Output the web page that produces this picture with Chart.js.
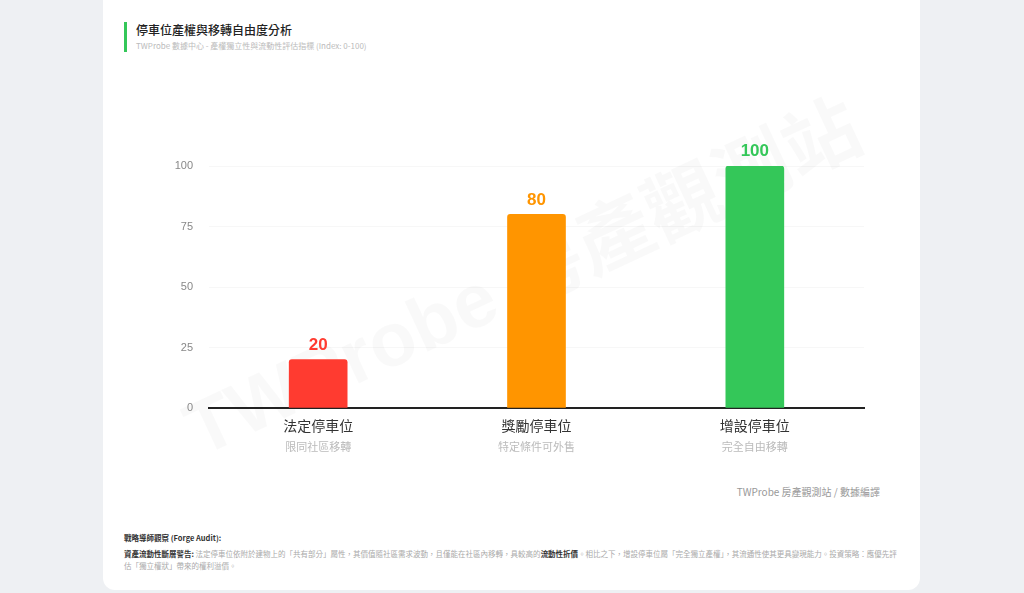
<!DOCTYPE html>
<html lang="zh-Hant">
<head>
<meta charset="utf-8">
<script src="https://cdn.jsdelivr.net/npm/chart.js@4"></script>
<style>
  html, body { margin: 0; padding: 0; background: #eef0f3; font-family: "Noto Sans CJK TC", "Noto Sans", sans-serif; }
  .card { position: absolute; left: 103px; top: -12px; width: 817px; height: 602px; background: #fff; border-radius: 12px; overflow: hidden; }
  .head { position: absolute; left: 21px; top: 34px; border-left: 3px solid #34c759; padding-left: 9px; height: 30px; }
  .head h1 { margin: 0; font-size: 12px; font-weight: 500; color: #222; line-height: 16px; }
  .head p { margin: 2px 0 0; font-size: 8px; color: #bbb; line-height: 11px; }
  .mark { position: absolute; left: 520px; top: 272px; transform: translate(-50%, -50%) rotate(-25deg); font: bold 76px "Liberation Sans", "Noto Sans CJK TC", sans-serif; color: rgba(0,0,0,0.022); white-space: nowrap; pointer-events: none; }
  .box { position: absolute; left: 160px; top: 120px; width: 720px; height: 350px; }
  .src { position: absolute; right: 40px; top: 496px; font-size: 10px; color: #999; }
  .audit { position: absolute; left: 21px; top: 544px; font-size: 7.5px; line-height: 12px; color: #aaa; white-space: nowrap; }
  .audit .t { color: #333; font-weight: bold; margin-bottom: 4px; }
  .audit b { color: #333; }
</style>
</head>
<body>
<div class="card">
  <div class="head">
    <h1>停車位產權與移轉自由度分析</h1>
    <p>TWProbe 數據中心 - 產權獨立性與流動性評估指標 (Index: 0-100)</p>
  </div>
  <div class="src">TWProbe 房產觀測站 / 數據編譯</div>
  <div class="audit">
    <div class="t">戰略導師觀察 (Forge Audit):</div>
    <b>資產流動性斷層警告:</b> 法定停車位依附於建物上的「共有部分」屬性，其價值隨社區需求波動，且僅能在社區內移轉，具較高的<b>流動性折價</b>。相比之下，增設停車位屬「完全獨立產權」，其流通性使其更具變現能力。投資策略：應優先評<br>估「獨立權狀」帶來的權利溢價。
  </div>
</div>
<div class="mark">TWProbe 房產觀測站</div>
<div class="box"><canvas id="chart"></canvas></div>
<script>
const categories = ['法定停車位', '獎勵停車位', '增設停車位'];
const subLabels = ['限同社區移轉', '特定條件可外售', '完全自由移轉'];
const freedomIndex = [20, 80, 100];
const barColors = ['#ff3b30', '#ff9500', '#34c759'];
const yTicks = [0, 25, 50, 75, 100];

const valueLabels = {
  id: 'valueLabels',
  afterDatasetsDraw(chart) {
    const ctx = chart.ctx;
    const meta = chart.getDatasetMeta(0);
    ctx.save();
    ctx.font = 'bold 17px "Liberation Sans", Arial, sans-serif';
    ctx.textAlign = 'center';
    ctx.textBaseline = 'bottom';
    meta.data.forEach((el, i) => {
      ctx.fillStyle = barColors[i];
      ctx.fillText(String(freedomIndex[i]), el.x, el.y - 6);
    });
    ctx.restore();
  }
};

const subTicks = {
  id: 'subTicks',
  afterDraw(chart) {
    const ctx = chart.ctx;
    const x = chart.scales.x;
    ctx.save();
    ctx.font = '11px "Noto Sans CJK TC", sans-serif';
    ctx.fillStyle = '#bbb';
    ctx.textAlign = 'center';
    ctx.textBaseline = 'middle';
    subLabels.forEach((s, i) => {
      ctx.fillText(s, x.getPixelForTick(i), x.top + 39);
    });
    ctx.restore();
  }
};

new Chart(document.getElementById('chart'), {
  type: 'bar',
  data: {
    labels: categories,
    datasets: [{
      data: freedomIndex,
      backgroundColor: barColors,
      borderRadius: { topLeft: 3, topRight: 3 },
      borderSkipped: 'bottom',
      barThickness: 58
    }]
  },
  options: {
    responsive: true,
    maintainAspectRatio: false,
    animation: false,
    layout: { padding: { left: 9, right: 16, top: 46, bottom: 0 } },
    plugins: { legend: { display: false }, tooltip: { enabled: false } },
    scales: {
      y: {
        min: 0,
        max: 100,
        afterFit(scale) { scale.width = 40; },
        afterBuildTicks(scale) { scale.ticks = yTicks.map(v => ({ value: v })); },
        border: { display: false },
        grid: { color: 'rgba(0,0,0,0.03)', drawTicks: false },
        ticks: { padding: 16, color: '#888', font: { size: 11, family: '"Liberation Sans", Arial, sans-serif' } }
      },
      x: {
        afterFit(scale) { scale.height = 62; },
        border: { display: true, color: '#222', width: 2 },
        grid: { display: false, drawTicks: false },
        ticks: { padding: 9, color: '#333', font: { size: 14, family: '"Noto Sans CJK TC", sans-serif' } }
      }
    }
  },
  plugins: [valueLabels, subTicks]
});
</script>
</body>
</html>
